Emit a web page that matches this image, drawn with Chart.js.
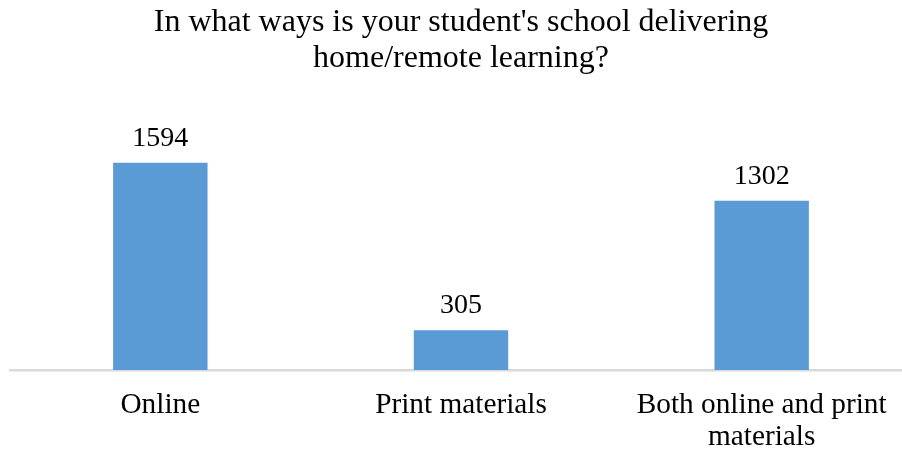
<!DOCTYPE html>
<html>
<head>
<meta charset="utf-8">
<script src="https://cdn.jsdelivr.net/npm/chart.js@4.4.0/dist/chart.umd.min.js"></script>
<style>
  html, body { margin: 0; padding: 0; background: #fff; overflow: hidden; }
  #wrap { width: 902px; height: 452px; overflow: hidden; }
  #box { width: 922px; height: 473px; }
</style>
</head>
<body>
<div id="wrap"><div id="box"><canvas id="deliveryChart"></canvas></div></div>
<script>
// Survey answers: how the school delivers home/remote learning
const categories = [
    'Online',
    'Print materials',
    ['Both online and print', 'materials']
];
const responses = [1594, 305, 1302];
const titleLines = [
    "In what ways is your student's school delivering",
    'home/remote learning?'
];

const FONT = "'Liberation Serif', 'Times New Roman', serif";

// Writes each bar's value just above it
const valueLabels = {
    id: 'valueLabels',
    afterDatasetsDraw(chart) {
        const ctx = chart.ctx;
        const meta = chart.getDatasetMeta(0);
        ctx.save();
        ctx.font = '28px ' + FONT;
        ctx.fillStyle = '#000';
        ctx.textAlign = 'center';
        ctx.textBaseline = 'alphabetic';
        meta.data.forEach((bar, i) => {
            const value = chart.data.datasets[0].data[i];
            ctx.fillText(String(value), bar.x, bar.y - 17);
        });
        ctx.restore();
    }
};

const ctx = document.getElementById('deliveryChart').getContext('2d');
new Chart(ctx, {
    type: 'bar',
    data: {
        labels: categories,
        datasets: [{
            data: responses,
            backgroundColor: '#5B9BD5',
            borderWidth: 0,
            categoryPercentage: 1,
            barPercentage: 0.314,
        }]
    },
    options: {
        responsive: true,
        maintainAspectRatio: false,
        animation: false,
        layout: { padding: { left: 10, right: 10, top: 0, bottom: 0 } },
        plugins: {
            legend: { display: false },
            tooltip: { enabled: false },
            title: {
                display: true,
                text: titleLines,
                color: '#000',
                font: { family: FONT, size: 32, weight: 'normal', lineHeight: 1.125 },
                padding: { top: 5, bottom: 59 }
            }
        },
        scales: {
            x: {
                grid: { display: false, drawTicks: false },
                border: { display: true, color: '#D9D9D9', width: 2.5 },
                ticks: {
                    color: '#000',
                    padding: 19,
                    maxRotation: 0,
                    autoSkip: false,
                    font: { family: FONT, size: 29.3, lineHeight: 1.11 }
                }
            },
            y: {
                display: false,
                min: 0,
                max: 1800
            }
        }
    },
    plugins: [valueLabels]
});
</script>
</body>
</html>
